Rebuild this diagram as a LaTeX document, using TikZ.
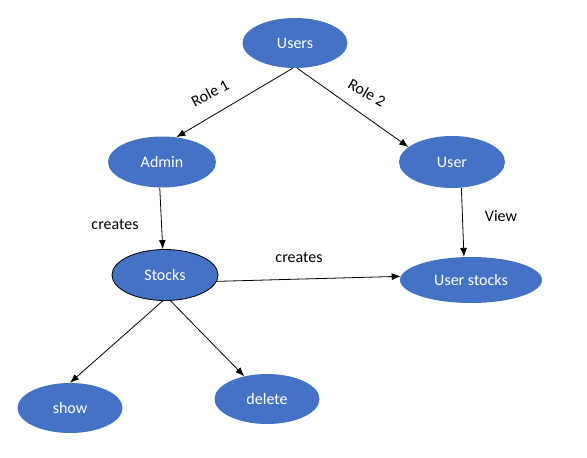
\documentclass[tikz,border=0pt]{standalone}
\usepackage{fontspec}
\setmainfont{Carlito}
\usetikzlibrary{shapes.geometric,arrows.meta}
\definecolor{officeblue}{HTML}{4472C4}
\tikzset{
  blob/.style={ellipse, fill=officeblue, text=white, inner sep=0pt, font=\fontsize{16}{19}\selectfont},
  lbl/.style={text=black, inner sep=0pt, font=\fontsize{16}{19}\selectfont},
  conn/.style={draw=black, line width=0.8pt, -{Latex[length=9pt,width=7pt]}}
}
\begin{document}
\begin{tikzpicture}[x=1pt,y=-1pt]
\useasboundingbox (0,0) rectangle (587,458);
\fill[white] (0,0) rectangle (587,458);
\node[blob, minimum width=105pt, minimum height=50pt] (users) at (295,43) {Users};
\node[blob, minimum width=108pt, minimum height=51pt] (admin) at (162,162) {Admin};
\node[blob, minimum width=106pt, minimum height=52pt] (user) at (452,162) {User};
\node[blob, draw=black, line width=0.8pt, minimum width=106pt, minimum height=51pt] (stocks) at (165,275) {Stocks};
\node[blob, minimum width=142pt, minimum height=46pt] (ustocks) at (471,280) {User stocks};
\node[blob, minimum width=105pt, minimum height=50pt] (show) at (70,408) {show};
\node[blob, minimum width=105pt, minimum height=50pt] (delete) at (267,399) {delete};

\draw[conn] (users.265) -- (admin.60);
\draw[conn] (users.275) -- (user.161);
\draw[conn] (admin.265) -- (stocks.95);
\draw[conn] (user.290) -- (ustocks.107);
\draw[conn] (stocks.353) -- (ustocks.177);
\draw[conn] (stocks.265) -- (show.north);
\draw[conn] (stocks.282) -- (delete.135);

\node[lbl, rotate=28] (r1) at (210,93) {Role 1};
\node[lbl, rotate=-30] (r2) at (367,93) {Role 2};
\node[lbl] (c1) at (115,224) {creates};
\node[lbl] (v) at (501,216) {View};
\node[lbl] (c2) at (299,257) {creates};
\end{tikzpicture}
\end{document}
